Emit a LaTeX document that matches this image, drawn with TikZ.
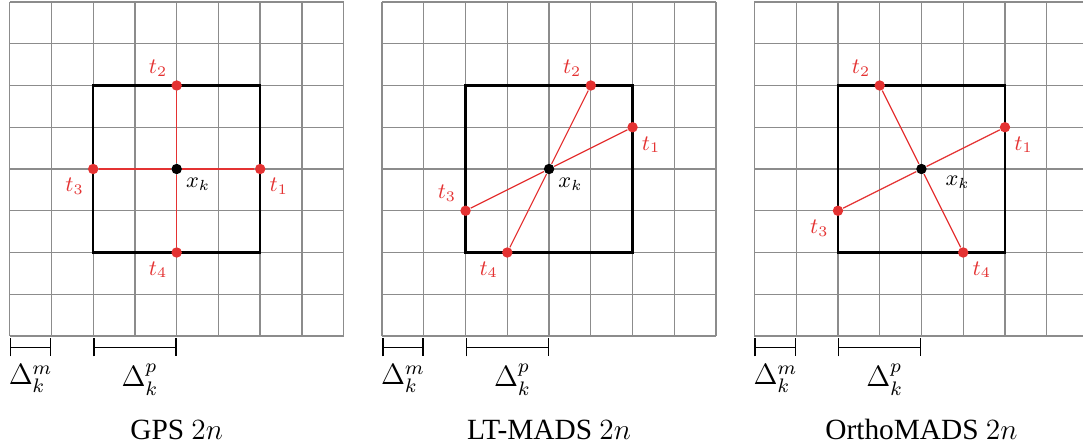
\documentclass[tikz,border=0pt]{standalone}
\usepackage{amsmath,amssymb}
\usepackage{fontspec}
\setmainfont{Liberation Serif}
\usepackage{tikz}
\usetikzlibrary{arrows.meta,positioning}
\definecolor{pollred}{RGB}{228,50,50}
\tikzset{
    meshline/.style={draw=gray!90, line width=0.55pt, step=0.6cm},
    framebox/.style={draw=black, line width=1pt},
    dirline/.style={draw=pollred, line width=0.5pt},
    pollpt/.style={circle, fill=pollred, inner sep=0pt, minimum size=1.5mm},
    centerpt/.style={circle, fill=black, inner sep=0pt, minimum size=1.5mm},
    tlabel/.style={text=pollred, font=\small, inner sep=2pt},
    xlabel/.style={font=\small, inner sep=2pt},
    meshbar/.style={{Bar[width=7.5pt]}-{Bar[width=7.5pt]}, line width=0.6pt},
    deltalabel/.style={font=\large, inner sep=0pt},
    caption/.style={font=\large},
}

\begin{document}
\begin{tikzpicture}[x=0.6cm,y=0.6cm]
    \useasboundingbox (-0.232,-2.635) rectangle (25.71,8.048);

    % GPS 2n
    \begin{scope}
        \draw[meshline] (0,0) grid (8,8);
        \draw[framebox] (2,2) rectangle (6,6);
        \node[centerpt] (gx) at (4,4) {};
        \node[pollpt] (g1) at (6,4) {};
        \node[pollpt] (g2) at (4,6) {};
        \node[pollpt] (g3) at (2,4) {};
        \node[pollpt] (g4) at (4,2) {};
        \draw[dirline] (gx) -- (g1);
        \draw[dirline] (gx) -- (g2);
        \draw[dirline] (gx) -- (g3);
        \draw[dirline] (gx) -- (g4);
        \node[xlabel, below right=0pt of gx] (gxl) {$x_k$};
        \node[tlabel, below right=0pt of g1] (g1l) {$t_1$};
        \node[tlabel, above left=0pt of g2] (g2l) {$t_2$};
        \node[tlabel, below left=0pt of g3] (g3l) {$t_3$};
        \node[tlabel, below left=0pt of g4] (g4l) {$t_4$};

        % mesh and poll sizes
        \coordinate (gm0) at (0,-0.27);
        \coordinate (gm1) at (1,-0.27);
        \coordinate (gp0) at (2,-0.27);
        \coordinate (gp1) at (4,-0.27);
        \draw[meshbar] (gm0) -- (gm1);
        \draw[meshbar] (gp0) -- (gp1);
        \node[deltalabel] (gdm) at (0.5,-1.02) {$\Delta_k^m$};
        \node[deltalabel] (gdp) at (3.12,-1.05) {$\Delta_k^p$};

        \node[caption] (gcap) at (4,-2.25) {GPS $2n$};
    \end{scope}

    % LT-MADS 2n
    \begin{scope}[shift={(8.92,0)}]
        \draw[meshline] (0,0) grid (8,8);
        \draw[framebox] (2,2) rectangle (6,6);
        \node[centerpt] (lx) at (4,4) {};
        \node[pollpt] (l1) at (6,5) {};
        \node[pollpt] (l2) at (5,6) {};
        \node[pollpt] (l3) at (2,3) {};
        \node[pollpt] (l4) at (3,2) {};
        \draw[dirline] (lx) -- (l1);
        \draw[dirline] (lx) -- (l2);
        \draw[dirline] (lx) -- (l3);
        \draw[dirline] (lx) -- (l4);
        \node[xlabel, below right=0pt of lx] (lxl) {$x_k$};
        \node[tlabel, below right=0pt of l1] (l1l) {$t_1$};
        \node[tlabel, above left=0pt of l2] (l2l) {$t_2$};
        \node[tlabel, above left=0pt of l3] (l3l) {$t_3$};
        \node[tlabel, below left=0pt of l4] (l4l) {$t_4$};

        % mesh and poll sizes
        \coordinate (lm0) at (0,-0.27);
        \coordinate (lm1) at (1,-0.27);
        \coordinate (lp0) at (2,-0.27);
        \coordinate (lp1) at (4,-0.27);
        \draw[meshbar] (lm0) -- (lm1);
        \draw[meshbar] (lp0) -- (lp1);
        \node[deltalabel] (ldm) at (0.5,-1.02) {$\Delta_k^m$};
        \node[deltalabel] (ldp) at (3.12,-1.05) {$\Delta_k^p$};

        \node[caption] (lcap) at (4,-2.25) {LT-MADS $2n$};
    \end{scope}

    % OrthoMADS 2n
    \begin{scope}[shift={(17.84,0)}]
        \draw[meshline] (0,0) grid (8,8);
        \draw[framebox] (2,2) rectangle (6,6);
        \node[centerpt] (ox) at (4,4) {};
        \node[pollpt] (o1) at (6,5) {};
        \node[pollpt] (o2) at (3,6) {};
        \node[pollpt] (o3) at (2,3) {};
        \node[pollpt] (o4) at (5,2) {};
        \draw[dirline] (ox) -- (o1);
        \draw[dirline] (ox) -- (o2);
        \draw[dirline] (ox) -- (o3);
        \draw[dirline] (ox) -- (o4);
        \node[xlabel, below right=-1pt and 6pt of ox] (oxl) {$x_k$};
        \node[tlabel, below right=0pt of o1] (o1l) {$t_1$};
        \node[tlabel, above left=0pt of o2] (o2l) {$t_2$};
        \node[tlabel, below left=0pt of o3] (o3l) {$t_3$};
        \node[tlabel, below right=0pt of o4] (o4l) {$t_4$};

        % mesh and poll sizes
        \coordinate (om0) at (0,-0.27);
        \coordinate (om1) at (1,-0.27);
        \coordinate (op0) at (2,-0.27);
        \coordinate (op1) at (4,-0.27);
        \draw[meshbar] (om0) -- (om1);
        \draw[meshbar] (op0) -- (op1);
        \node[deltalabel] (odm) at (0.5,-1.02) {$\Delta_k^m$};
        \node[deltalabel] (odp) at (3.12,-1.05) {$\Delta_k^p$};

        \node[caption] (ocap) at (4,-2.25) {OrthoMADS $2n$};
    \end{scope}
\end{tikzpicture}
\end{document}
